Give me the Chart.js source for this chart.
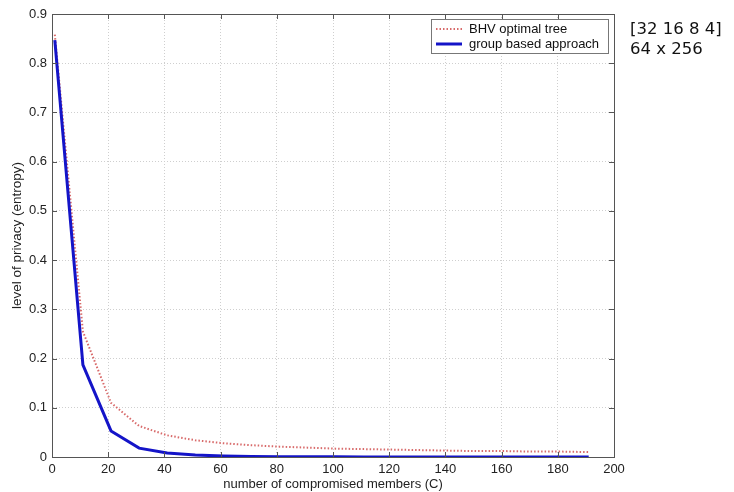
<!DOCTYPE html>
<html>
<head>
<meta charset="utf-8">
<script src="https://cdn.jsdelivr.net/npm/chart.js@4/dist/chart.umd.min.js"></script>
<style>
  html, body { margin: 0; padding: 0; background: #fff; }
  #wrap { width: 734px; height: 492px; position: relative; }
</style>
</head>
<body>
<div id="wrap"><canvas id="privacyChart" width="734" height="492"></canvas></div>
<script>
// Number of compromised members (C)
const members = [1, 11, 21, 31, 41, 51, 61, 71, 81, 91, 101, 111, 121, 131, 141, 151, 161, 171, 181, 191];
// Entropy for the BHV optimal tree
const bhvTree = [0.858, 0.255, 0.11, 0.063, 0.044, 0.034, 0.028, 0.024, 0.021, 0.019, 0.017, 0.016, 0.015, 0.014, 0.013, 0.012, 0.012, 0.011, 0.011, 0.010];
// Entropy for the group based approach
const groupBased = [0.847, 0.187, 0.053, 0.018, 0.008, 0.004, 0.002, 0.001, 0.0006, 0.0004, 0.0003, 0.0002, 0.0002, 0.0001, 0.0001, 0.0001, 0.0001, 0, 0, 0];

const xTicks = [0, 20, 40, 60, 80, 100, 120, 140, 160, 180, 200];
const yTicks = [0, 0.1, 0.2, 0.3, 0.4, 0.5, 0.6, 0.7, 0.8, 0.9];
const noteLines = ["[32 16 8 4]", "64 x 256"];

const font = "'Liberation Sans', Arial, sans-serif";
const axisColor = "#555";

function toPoints(ys) {
  return members.map((m, i) => ({ x: m, y: ys[i] }));
}

// Box around the plot, inward ticks, legend and side note
const framePlugin = {
  id: "frame",
  afterDraw(chart) {
    const { ctx, chartArea: a, scales } = chart;
    const tick = 5;
    ctx.save();
    ctx.strokeStyle = axisColor;
    ctx.lineWidth = 1;
    ctx.strokeRect(a.left + 0.5, a.top + 0.5, a.right - a.left, a.bottom - a.top);

    ctx.beginPath();
    xTicks.forEach((v) => {
      const px = Math.round(scales.x.getPixelForValue(v)) + 0.5;
      ctx.moveTo(px, a.bottom);
      ctx.lineTo(px, a.bottom - tick);
      ctx.moveTo(px, a.top);
      ctx.lineTo(px, a.top + tick);
    });
    yTicks.forEach((v) => {
      const py = Math.round(scales.y.getPixelForValue(v)) + 0.5;
      ctx.moveTo(a.left, py);
      ctx.lineTo(a.left + tick, py);
      ctx.moveTo(a.right, py);
      ctx.lineTo(a.right - tick, py);
    });
    ctx.stroke();

    // legend box
    const lx = 431, ly = 19, lw = 177, lh = 34;
    ctx.fillStyle = "#fff";
    ctx.fillRect(lx, ly, lw, lh);
    ctx.strokeStyle = "#777";
    ctx.strokeRect(lx + 0.5, ly + 0.5, lw, lh);
    ctx.font = "13px " + font;
    ctx.textBaseline = "middle";
    chart.data.datasets.forEach((ds, i) => {
      const y = ly + 10 + i * 15;
      ctx.beginPath();
      ctx.strokeStyle = ds.borderColor;
      ctx.lineWidth = ds.borderWidth;
      ctx.setLineDash(ds.borderDash || []);
      ctx.moveTo(lx + 5, y);
      ctx.lineTo(lx + 31, y);
      ctx.stroke();
      ctx.setLineDash([]);
      ctx.fillStyle = "#111";
      ctx.fillText(ds.label, lx + 38, y);
    });

    // note on the right
    ctx.font = "16.5px 'DejaVu Sans', Verdana, sans-serif";
    ctx.fillStyle = "#111";
    ctx.textBaseline = "alphabetic";
    ctx.fillText(noteLines[0], 630, 34);
    ctx.fillText(noteLines[1], 630, 54);
    ctx.restore();
  }
};

const ctx = document.getElementById("privacyChart").getContext("2d");
new Chart(ctx, {
  type: "line",
  data: {
    datasets: [
      {
        label: "BHV optimal tree",
        data: toPoints(bhvTree),
        borderColor: "#d86a6a",
        borderWidth: 2,
        borderDash: [1.5, 2],
        pointRadius: 0,
        tension: 0,
        order: 2
      },
      {
        label: "group based approach",
        data: toPoints(groupBased),
        borderColor: "#1414c8",
        borderWidth: 3,
        pointRadius: 0,
        tension: 0,
        order: 1
      }
    ]
  },
  options: {
    responsive: false,
    animation: false,
    layout: { padding: { left: 0, right: 120, top: 14, bottom: 0 } },
    plugins: {
      legend: { display: false },
      tooltip: { enabled: false }
    },
    scales: {
      x: {
        type: "linear",
        min: 0,
        max: 200,
        afterFit: (scale) => { scale.height = 35; },
        afterBuildTicks: (scale) => { scale.ticks = xTicks.map((v) => ({ value: v })); },
        ticks: { color: "#222", font: { family: font, size: 13 }, padding: 5, maxRotation: 0 },
        grid: { color: "#cfcfcf", drawTicks: false },
        border: { color: axisColor, dash: [1, 2] },
        title: {
          display: true,
          text: "number of compromised members (C)",
          color: "#222",
          font: { family: font, size: 13 },
          padding: { top: 3, bottom: 0 }
        }
      },
      y: {
        min: 0,
        max: 0.9,
        afterFit: (scale) => { scale.width = 52; },
        afterBuildTicks: (scale) => { scale.ticks = yTicks.map((v) => ({ value: v })); },
        ticks: {
          color: "#222",
          font: { family: font, size: 13 },
          padding: 5,
          callback: (v) => String(+v.toFixed(1))
        },
        grid: { color: "#cfcfcf", drawTicks: false },
        border: { color: axisColor, dash: [1, 2] },
        title: {
          display: true,
          text: "level of privacy (entropy)",
          color: "#222",
          font: { family: font, size: 13.5 },
          padding: { top: 9, bottom: 2 }
        }
      }
    }
  },
  plugins: [framePlugin]
});
</script>
</body>
</html>
